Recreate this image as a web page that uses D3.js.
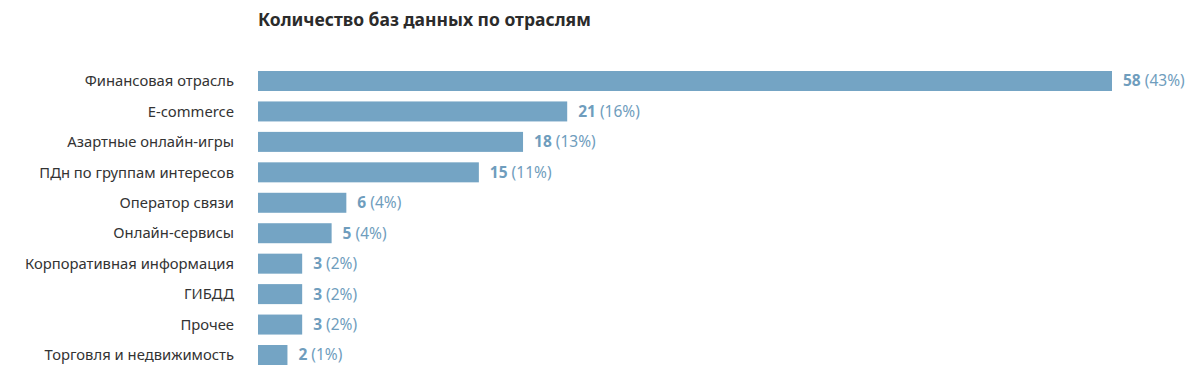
<!DOCTYPE html>
<html><head><meta charset="utf-8">
<script src="https://cdn.jsdelivr.net/npm/d3@7"></script>
<style>body{margin:0;background:#fff;} svg{display:block;}</style>
</head><body>
<svg id="c" width="1197" height="375"></svg>
<script>
const categories = ["Финансовая отрасль","E-commerce","Азартные онлайн-игры","ПДн по группам интересов","Оператор связи","Онлайн-сервисы","Корпоративная информация","ГИБДД","Прочее","Торговля и недвижимость"];
const values = [58,21,18,15,6,5,3,3,3,2];
const percents = ["43%","16%","13%","11%","4%","4%","2%","2%","2%","1%"];
const title = "Количество баз данных по отраслям";

const svg = d3.select("#c");
const font = "'Noto Sans', 'Open Sans', sans-serif";
const x = d3.scaleLinear().domain([0,58]).range([258,1112]);
const y = d3.scaleBand().domain(categories).range([71,365]).paddingInner(0.343).paddingOuter(0);

svg.append("text").attr("x",258).attr("y",26).attr("font-family",font).attr("font-weight","bold")
  .attr("font-size",17.5).attr("fill","#2b2b2b").text(title);

const data = categories.map((c,i)=>({c,v:values[i],p:percents[i]}));
svg.selectAll("rect").data(data).join("rect")
  .attr("x",x(0)).attr("y",d=>y(d.c)).attr("width",d=>x(d.v)-x(0)).attr("height",y.bandwidth())
  .attr("fill","#74a4c4");

svg.selectAll("text.cat").data(data).join("text").attr("class","cat")
  .attr("x",234).attr("y",d=>y(d.c)+y.bandwidth()/2).attr("dy","0.35em")
  .attr("text-anchor","end").attr("font-family",font).attr("font-size",14.8).attr("fill","#333")
  .text(d=>d.c);

const vl = svg.selectAll("text.val").data(data).join("text").attr("class","val")
  .attr("x",d=>x(d.v)+11).attr("y",d=>y(d.c)+y.bandwidth()/2).attr("dy","0.35em")
  .attr("font-family",font).attr("font-size",15.5).attr("fill","#6f9dbd");
vl.append("tspan").attr("font-weight","bold").text(d=>d.v);
vl.append("tspan").text(d=>" ("+d.p+")");
</script>
</body></html>
